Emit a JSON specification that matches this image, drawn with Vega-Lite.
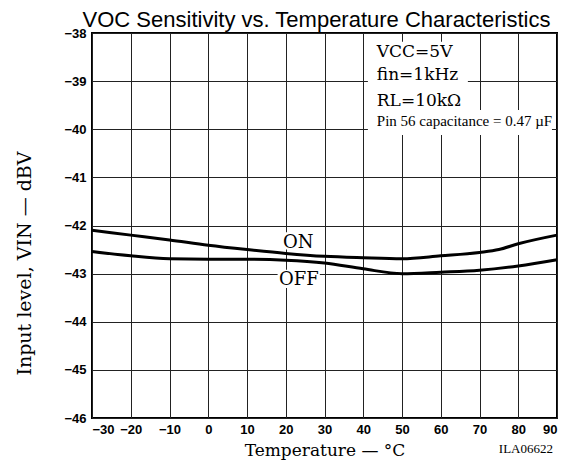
{
  "$schema": "https://vega.github.io/schema/vega-lite/v6.json",
  "width": 465,
  "height": 385,
  "autosize": {"type": "none"},
  "padding": {"left": 92, "top": 33, "right": 8, "bottom": 52},
  "background": "white",
  "title": {
    "text": "VOC Sensitivity vs. Temperature Characteristics",
    "font": "Liberation Sans",
    "fontSize": 22,
    "fontWeight": "normal",
    "color": "black",
    "anchor": "middle",
    "baseline": "alphabetic",
    "offset": 5,
    "dx": -8,
    "dy": 27
  },
  "config": {
    "view": {"stroke": "black", "strokeWidth": 2},
    "axis": {
      "grid": true,
      "gridColor": "#222222",
      "gridWidth": 1,
      "gridOpacity": 1,
      "ticks": false,
      "domain": false,
      "labelFont": "Liberation Sans",
      "labelFontWeight": "bold",
      "labelFontSize": 13,
      "labelColor": "black",
      "labelOverlap": false,
      "titleFont": "DejaVu Serif",
      "titleFontWeight": "normal",
      "titleFontSize": 17,
      "titleColor": "black"
    }
  },
  "datasets": {
    "curves": [
      {"series": "ON", "t": -30, "v": -42.1},
      {"series": "ON", "t": -20, "v": -42.2},
      {"series": "ON", "t": -10, "v": -42.3},
      {"series": "ON", "t": 0, "v": -42.41},
      {"series": "ON", "t": 10, "v": -42.5},
      {"series": "ON", "t": 20, "v": -42.58},
      {"series": "ON", "t": 30, "v": -42.64},
      {"series": "ON", "t": 40, "v": -42.67},
      {"series": "ON", "t": 50, "v": -42.69},
      {"series": "ON", "t": 60, "v": -42.63},
      {"series": "ON", "t": 70, "v": -42.56},
      {"series": "ON", "t": 75, "v": -42.5},
      {"series": "ON", "t": 80, "v": -42.38},
      {"series": "ON", "t": 90, "v": -42.2},
      {"series": "OFF", "t": -30, "v": -42.54},
      {"series": "OFF", "t": -20, "v": -42.63},
      {"series": "OFF", "t": -10, "v": -42.69},
      {"series": "OFF", "t": 0, "v": -42.7},
      {"series": "OFF", "t": 10, "v": -42.7},
      {"series": "OFF", "t": 20, "v": -42.72},
      {"series": "OFF", "t": 30, "v": -42.78},
      {"series": "OFF", "t": 40, "v": -42.9},
      {"series": "OFF", "t": 50, "v": -43.0},
      {"series": "OFF", "t": 60, "v": -42.97},
      {"series": "OFF", "t": 70, "v": -42.93},
      {"series": "OFF", "t": 80, "v": -42.84},
      {"series": "OFF", "t": 90, "v": -42.71}
    ],
    "boxes": [
      {"t": 41.2, "t2": 67, "v": -38.18, "v2": -39.6},
      {"t": 41.2, "t2": 88.7, "v": -39.6, "v2": -40.12},
      {"t": 18.5, "t2": 27.8, "v": -42.14, "v2": -42.5},
      {"t": 17.9, "t2": 28.8, "v": -42.92, "v2": -43.3}
    ],
    "bignotes": [
      {"label": "VCC=5V", "t": 43.5, "v": -38.49},
      {"label": "fin=1kHz", "t": 43.5, "v": -38.97},
      {"label": "RL=10kΩ", "t": 43.5, "v": -39.51}
    ],
    "pinnote": [
      {"label": "Pin 56 capacitance = 0.47 µF", "t": 43.5, "v": -39.94}
    ],
    "curvelabels": [
      {"label": "ON", "t": 23.2, "v": -42.47},
      {"label": "OFF", "t": 23.4, "v": -43.23}
    ],
    "code": [
      {"label": "ILA06622", "t": 90, "v": -46}
    ]
  },
  "encoding": {
    "x": {
      "field": "t",
      "type": "quantitative",
      "scale": {"domain": [-30, 90], "nice": false, "zero": false},
      "axis": {
        "values": [-30, -20, -10, 0, 10, 20, 30, 40, 50, 60, 70, 80, 90],
        "title": "Temperature — °C",
        "labelPadding": 5,
        "titlePadding": 6
      }
    },
    "y": {
      "field": "v",
      "type": "quantitative",
      "scale": {"domain": [-46, -38], "nice": false, "zero": false},
      "axis": {
        "values": [-46, -45, -44, -43, -42, -41, -40, -39, -38],
        "title": "Input level, VIN — dBV",
        "titleFontSize": 19,
        "titleY": 230,
        "labelPadding": 6,
        "titlePadding": 29
      }
    }
  },
  "layer": [
    {
      "data": {"name": "boxes"},
      "mark": {"type": "rect", "color": "white", "opacity": 1},
      "encoding": {
        "x2": {"field": "t2"},
        "y2": {"field": "v2"}
      }
    },
    {
      "data": {"name": "curves"},
      "mark": {"type": "line", "color": "black", "strokeWidth": 3, "interpolate": "monotone"},
      "encoding": {
        "detail": {"field": "series", "type": "nominal"}
      }
    },
    {
      "data": {"name": "bignotes"},
      "mark": {"type": "text", "align": "left", "baseline": "alphabetic", "font": "DejaVu Serif", "fontSize": 17, "color": "black"},
      "encoding": {"text": {"field": "label"}}
    },
    {
      "data": {"name": "pinnote"},
      "mark": {"type": "text", "align": "left", "baseline": "alphabetic", "font": "Liberation Serif", "fontSize": 15, "color": "black"},
      "encoding": {"text": {"field": "label"}}
    },
    {
      "data": {"name": "curvelabels"},
      "mark": {"type": "text", "align": "center", "baseline": "alphabetic", "font": "DejaVu Serif", "fontSize": 18, "color": "black"},
      "encoding": {"text": {"field": "label"}}
    },
    {
      "data": {"name": "code"},
      "mark": {"type": "text", "align": "right", "baseline": "middle", "dx": -4, "dy": 31, "font": "Liberation Serif", "fontSize": 13, "color": "black"},
      "encoding": {"text": {"field": "label"}}
    }
  ]
}
